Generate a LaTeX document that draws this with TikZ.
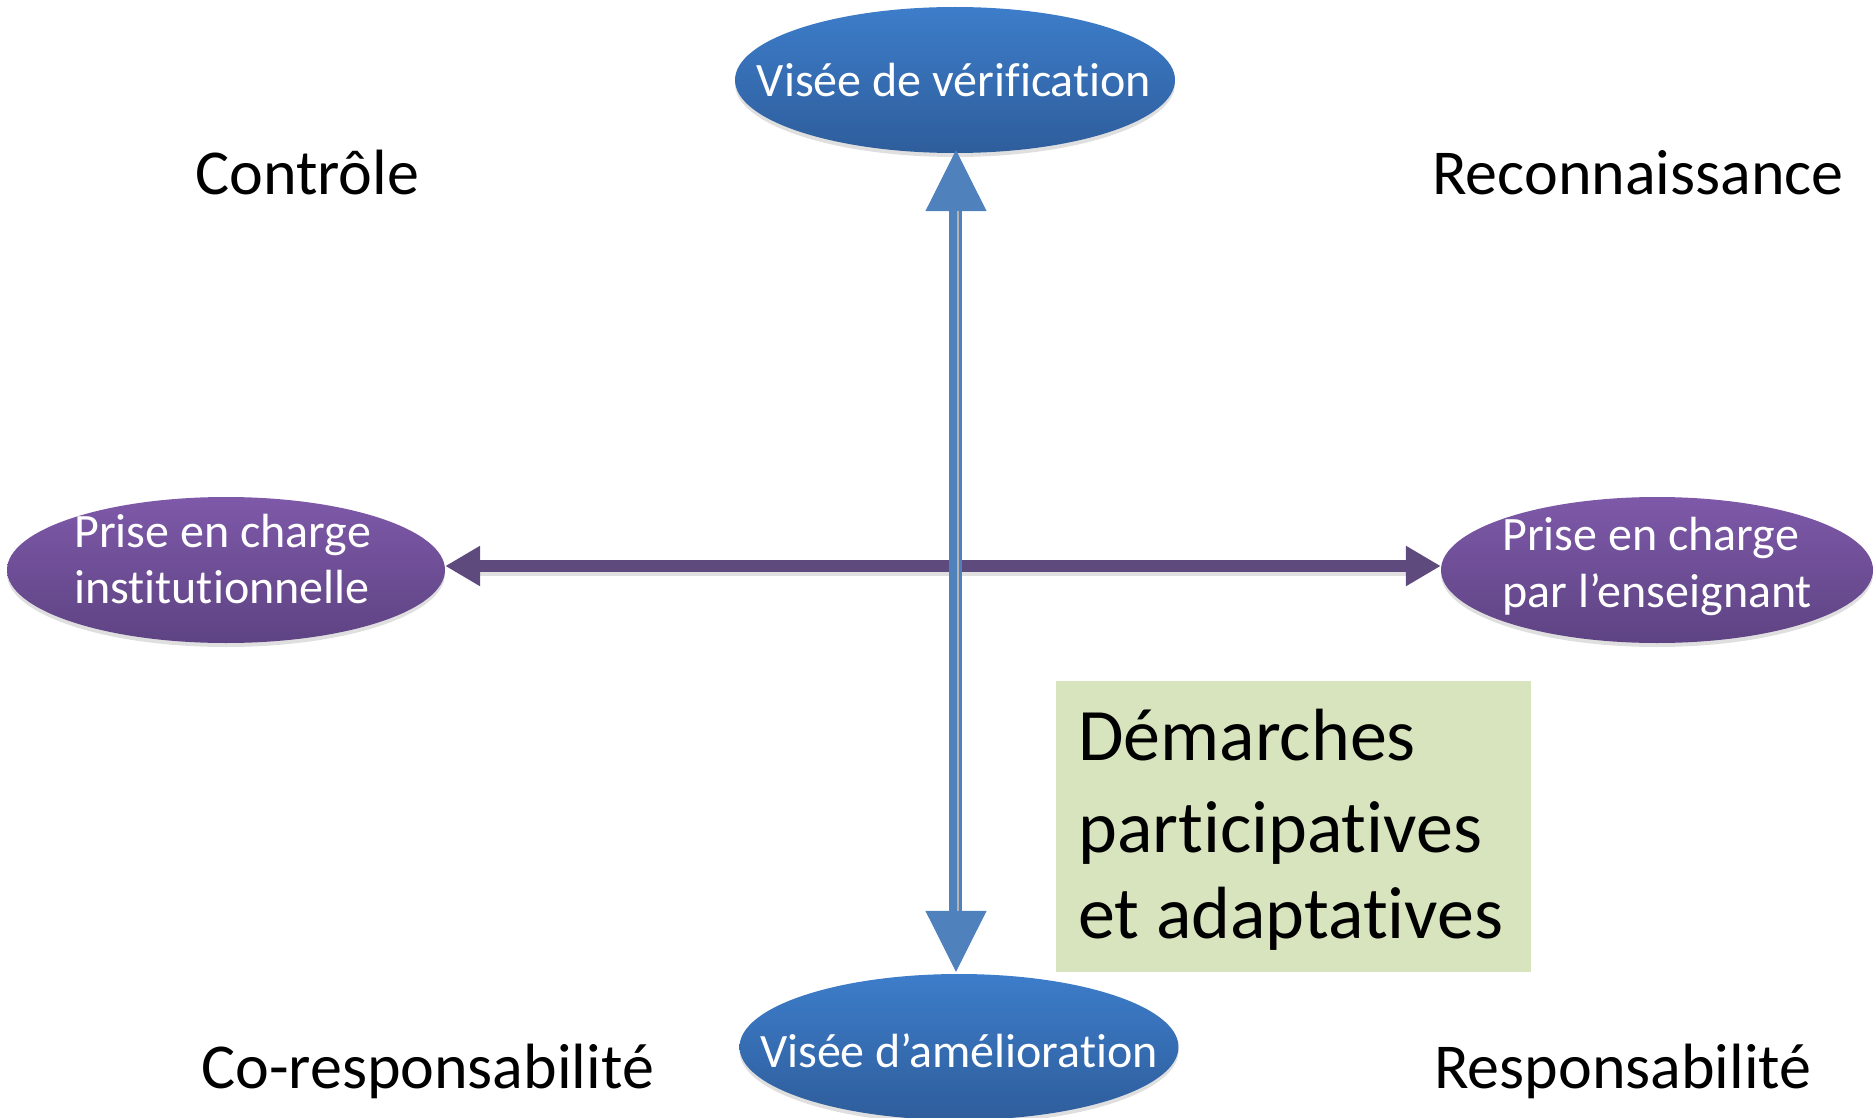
\documentclass[tikz,border=0pt]{standalone}
\usepackage{fontspec}
\setmainfont[Ligatures=NoCommon]{Carlito}
\usetikzlibrary{shapes.geometric,arrows.meta,shadows}
\definecolor{bluetop}{HTML}{3D7DCA}
\definecolor{bluebot}{HTML}{2E5D9B}
\definecolor{purtop}{HTML}{7E59A9}
\definecolor{purbot}{HTML}{5E4383}
\definecolor{arrblue}{HTML}{4F81BD}
\definecolor{arrpur}{HTML}{5E4A7C}
\definecolor{boxgreen}{HTML}{D7E4BD}
\tikzset{
  oval/.style={ellipse, inner sep=0pt, draw=none,
    drop shadow={shadow xshift=0pt, shadow yshift=-4pt, opacity=0.25}},
  blueoval/.style={oval, top color=bluetop, bottom color=bluebot},
  purpleoval/.style={oval, top color=purtop, bottom color=purbot},
  ovaltext/.style={text=white, inner sep=0pt, font=\fontsize{48}{58}\selectfont},
  quad/.style={anchor=base west, inner sep=0pt, font=\fontsize{64}{76}\selectfont},
  boxtext/.style={anchor=base west, inner sep=0pt, font=\fontsize{74}{88}\selectfont},
  bighead/.style={{Triangle[width=61pt 0,length=61pt 0]}-{Triangle[width=61pt 0,length=61pt 0]}},
  smallhead/.style={{Triangle[width=38pt 0,length=35pt 0]}-{Triangle[width=38pt 0,length=35pt 0]}},
}
\begin{document}
\begin{tikzpicture}[x=1pt,y=-1pt]
\useasboundingbox (0,0) rectangle (1874,1118);

% ellipses
\node[blueoval, minimum width=440pt, minimum height=146pt] (top) at (955,80) {};
\node[blueoval, minimum width=439pt, minimum height=146pt] (bot) at (959,1047) {};
\node[purpleoval, minimum width=438pt, minimum height=146pt] (left) at (226,570) {};
\node[purpleoval, minimum width=432pt, minimum height=146pt] (right) at (1657,570) {};

% green box
\node[fill=boxgreen, inner sep=0pt, minimum width=475pt, minimum height=291pt] (box) at (1293.5,826.5) {};

% horizontal arrow
\coordinate (hl) at ([yshift=4pt]left.east);
\coordinate (hr) at ([yshift=4pt]right.west);
\draw[black, opacity=0.12, line width=4pt, shorten <=35pt, shorten >=35pt] ([yshift=-8pt]hl) -- ([yshift=-8pt]hr);
\draw[arrpur, line width=12pt, smallhead] (hl) -- (hr);

% vertical arrow
\coordinate (vt) at ([xshift=1pt,yshift=3pt]top.south);
\coordinate (vb) at ([xshift=-3pt,yshift=2pt]bot.north);
\draw[arrblue, line width=1pt, bighead] (vt) -- (vb);
\draw[black!30, line width=2pt, shorten <=61pt, shorten >=61pt] ([xshift=2pt]vt) -- ([xshift=2pt]vb);
\draw[arrblue, line width=8pt, shorten <=61pt, shorten >=61pt] ([xshift=-3pt]vt) -- ([xshift=-3pt]vb);
\draw[arrblue, line width=3pt, shorten <=61pt, shorten >=61pt] ([xshift=4.5pt]vt) -- ([xshift=4.5pt]vb);

% ellipse texts
\node[ovaltext, anchor=base] (ttop) at (954,97) {Visée de vérification};
\node[ovaltext, anchor=base] (tbot) at (959,1067) {Visée d’amélioration};
\node[ovaltext, anchor=base west] (tl1) at (74,547) {Prise en charge};
\node[ovaltext, anchor=base west] (tl2) at (74,603) {institutionnelle};
\node[ovaltext, anchor=base west] (tr1) at (1502,550) {Prise en charge};
\node[ovaltext, anchor=base west] (tr2) at (1502,607) {par l’enseignant};

% box text
\node[boxtext] (b1) at (1078,760) {Démarches};
\node[boxtext] (b2) at (1078,852) {participatives};
\node[boxtext] (b3) at (1078,938) {et adaptatives};

% quadrant labels
\node[quad] (q1) at (195,195) {Contrôle};
\node[quad] (q2) at (1432,195) {Reconnaissance};
\node[quad] (q3) at (201,1088) {Co-responsabilité};
\node[quad] (q4) at (1434,1088) {Responsabilité};
\end{tikzpicture}
\end{document}
